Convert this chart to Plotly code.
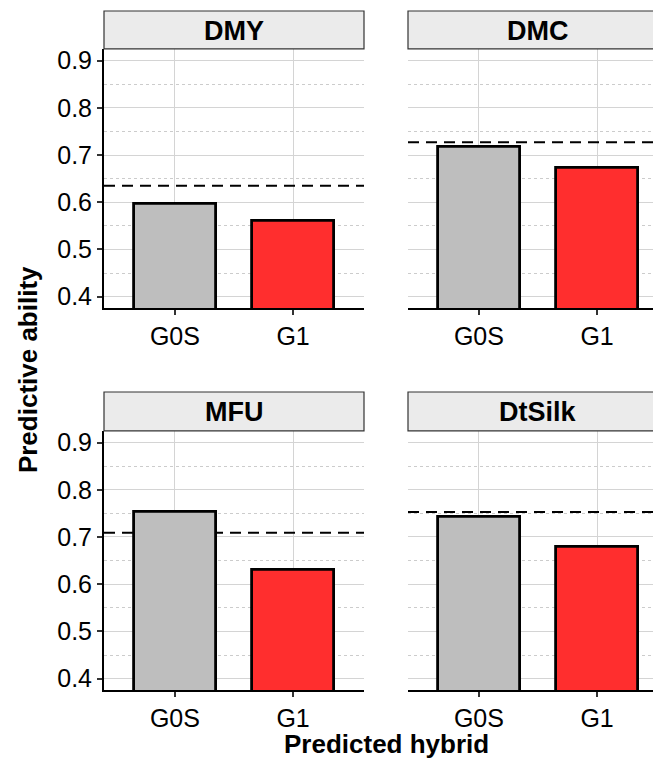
import plotly.graph_objects as go

# ---- data ----
traits = ["DMY", "DMC", "MFU", "DtSilk"]
categories = ["G0S", "G1"]
g0s_values = [0.597, 0.718, 0.754, 0.742]
g1_values = [0.561, 0.672, 0.631, 0.679]
baseline_values = [0.635, 0.727, 0.709, 0.753]
bar_colors = ["#BEBEBE", "#FF2E2E"]

OFF = 8  # default page body margin
W, H = 661 - OFF, 770 - OFF
FONT = "Liberation Sans, Arial, sans-serif"

def px_x(p):
    return (p - OFF) / W

def py_y(p):
    return 1 - (p - OFF) / H

# panel geometry (screen pixels)
cols = [(104, 364), (408, 661)]
rows = [(47, 308), (431, 692)]
strips = [(9, 47), (392, 431)]
unit = (364 - 104) / 2.2  # px per category unit

fig = go.Figure()
layout = dict(
    width=W, height=H, autosize=False,
    margin=dict(l=0, r=0, t=0, b=0),
    paper_bgcolor="white", plot_bgcolor="white",
    showlegend=False, bargap=0,
    font=dict(family=FONT, color="black"),
)
shapes = []
annotations = []

for i, trait in enumerate(traits):
    r, c = divmod(i, 2)
    k = i + 1
    xname = "x" if k == 1 else f"x{k}"
    yname = "y" if k == 1 else f"y{k}"
    x0p, x1p = cols[c]
    y0p, y1p = rows[r]
    xmax = (x1p - x0p) / unit - 0.6

    fig.add_trace(go.Bar(
        x=categories, y=[g0s_values[i], g1_values[i]],
        width=0.7,
        marker=dict(color=bar_colors, line=dict(color="black", width=2.8)),
        xaxis=xname, yaxis=yname, hoverinfo="skip",
    ))

    layout["xaxis" if k == 1 else f"xaxis{k}"] = dict(
        domain=[px_x(x0p), min(1.0, px_x(x1p))], anchor=yname,
        type="category", range=[-0.6, xmax],
        showgrid=True, gridcolor="#D4D4D4", gridwidth=1,
        showline=True, linecolor="black", linewidth=2,
        ticks="outside", ticklen=5, tickwidth=2, tickcolor="#333333",
        tickfont=dict(size=25, family=FONT, color="black"),
        zeroline=False,
    )
    layout["yaxis" if k == 1 else f"yaxis{k}"] = dict(
        domain=[py_y(y1p), py_y(y0p)], anchor=xname,
        range=[0.375, 0.925],
        tickvals=[0.4, 0.5, 0.6, 0.7, 0.8, 0.9],
        ticktext=["0.4", "0.5", "0.6", "0.7", "0.8", "0.9"],
        showgrid=True, gridcolor="#D4D4D4", gridwidth=1,
        minor=dict(tickvals=[0.45, 0.55, 0.65, 0.75, 0.85], showgrid=True,
                   griddash="dot", gridcolor="#CCCCCC", gridwidth=1, ticks=""),
        showline=(c == 0), linecolor="black", linewidth=2,
        ticks="outside" if c == 0 else "", ticklen=5, tickwidth=2, tickcolor="#333333",
        showticklabels=(c == 0),
        tickfont=dict(size=25, family=FONT, color="black"),
        zeroline=False,
    )

    # dashed reference line (behind bars)
    shapes.append(dict(
        type="line", xref=xname, yref=yname,
        x0=-0.6, x1=xmax, y0=baseline_values[i], y1=baseline_values[i],
        line=dict(color="black", width=2, dash="11px,7px"),
        layer="between",
    ))

    # facet strip
    s0, s1 = strips[r]
    strip_right = x0p + 260
    shapes.append(dict(
        type="rect", xref="paper", yref="paper",
        x0=px_x(x0p), x1=px_x(strip_right), y0=py_y(s1), y1=py_y(s0),
        fillcolor="#EBEBEB", line=dict(color="#333333", width=1.2),
        layer="above",
    ))
    annotations.append(dict(
        text=f"<b>{trait}</b>", xref="paper", yref="paper",
        x=px_x((x0p + strip_right) / 2), y=py_y((s0 + s1) / 2 + 1),
        xanchor="center", yanchor="middle", showarrow=False,
        font=dict(size=27, family=FONT, color="black"),
    ))

annotations.append(dict(
    text="<b>Predictive ability</b>", xref="paper", yref="paper",
    x=px_x(28), y=py_y(370), xanchor="center", yanchor="middle",
    textangle=-90, showarrow=False,
    font=dict(size=26, family=FONT, color="black"),
))
annotations.append(dict(
    text="<b>Predicted hybrid</b>", xref="paper", yref="paper",
    x=px_x(386), y=py_y(746), xanchor="center", yanchor="middle",
    showarrow=False,
    font=dict(size=26, family=FONT, color="black"),
))

layout["shapes"] = shapes
layout["annotations"] = annotations
fig.update_layout(**layout)
fig.write_html("out.html")
